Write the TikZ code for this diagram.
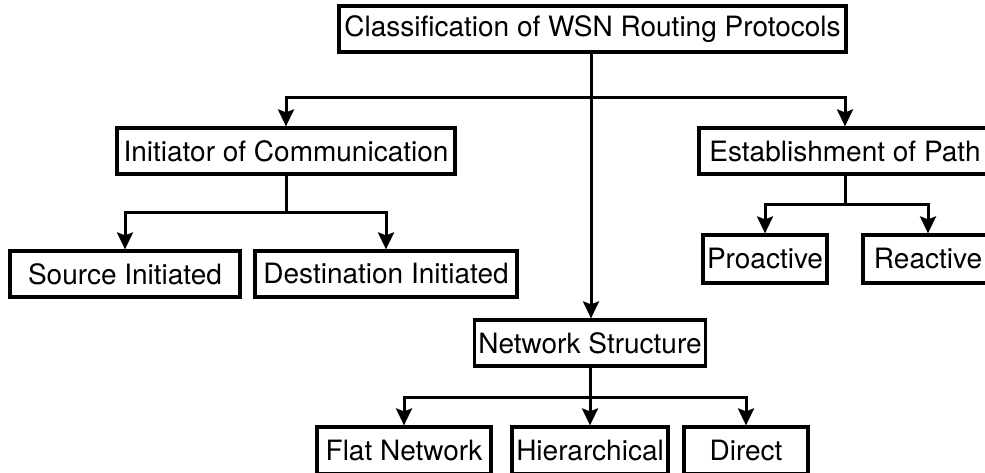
\documentclass[tikz,border=0pt]{standalone}
\usepackage{fontspec}
\setmainfont{TeX Gyre Heros}
\usetikzlibrary{arrows.meta}

\begin{document}
\begin{tikzpicture}[
    x=1pt, y=-1pt,
    box/.style={draw=black, line width=3.2pt, rectangle, inner sep=0pt,
                minimum height=46pt, font=\fontsize{28}{33}\selectfont, anchor=center},
    link/.style={draw=black, line width=3pt},
    arr/.style={link, -{Stealth[length=17pt,width=16pt,inset=3pt]}}
  ]
  % page area
  \useasboundingbox (0,0) rectangle (985,473);
  \fill[white] (0,0) rectangle (985,473);
  \clip (0,0) rectangle (985,473);

  % root
  \node[box, minimum width=507pt] (root) at (592.5,29) {Classification of WSN Routing Protocols};

  % second level
  \node[box, minimum width=338pt] (init)  at (286,151) {Initiator of Communication};
  \node[box, minimum width=292pt] (estab) at (845,151) {Establishment of Path};
  \node[box, minimum width=231pt] (net)   at (590,343) {Network Structure};

  % leaves
  \node[box, minimum width=230pt] (src) at (125,274) {Source Initiated};
  \node[box, minimum width=262pt] (dst) at (386,274) {Destination Initiated};
  \node[box, minimum width=124pt, minimum height=48pt] (pro) at (765,259) {Proactive};
  \node[box, minimum width=130pt, minimum height=48pt] (rea) at (928,259) {Reactive};
  \node[box, minimum width=174pt, minimum height=47pt] (flat) at (404,450.5) {Flat Network};
  \node[box, minimum width=156pt, minimum height=47pt] (hier) at (590,450.5) {Hierarchical};
  \node[box, minimum width=124pt, minimum height=47pt] (dir)  at (746,450.5) {Direct};

  % branch points
  \coordinate (jroot)  at (591,98);
  \coordinate (jinit)  at (286,213);
  \coordinate (jestab) at (845,205);
  \coordinate (jnet)   at (590,397);

  % root connectors
  \draw[arr] (root.south -| jroot) -- (net.north -| jroot);
  \draw[arr] (jroot) -| (init.north);
  \draw[arr] (jroot) -| (estab.north);

  % initiator connectors
  \draw[link] (init.south) -- (jinit);
  \draw[arr] (jinit) -| (src.north);
  \draw[arr] (jinit) -| (dst.north);

  % path establishment connectors
  \draw[link] (estab.south) -- (jestab);
  \draw[arr] (jestab) -| (pro.north);
  \draw[arr] (jestab) -| (rea.north);

  % network structure connectors
  \draw[link] (net.south) -- (jnet);
  \draw[arr] (jnet) -| (flat.north);
  \draw[arr] (jnet) -- (hier.north);
  \draw[arr] (jnet) -| (dir.north);
\end{tikzpicture}
\end{document}
